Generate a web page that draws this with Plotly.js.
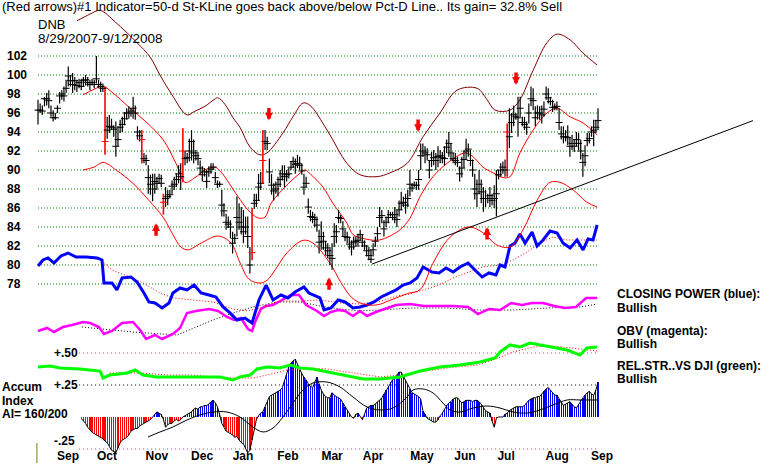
<!DOCTYPE html>
<html><head><meta charset="utf-8">
<script src="https://cdn.plot.ly/plotly-3.0.1.min.js"></script>
<style>html,body{margin:0;padding:0;background:#fff}#chart{width:784px;height:465px}</style>
</head><body><div id="chart"></div>
<script>
// ---------- DATA ----------
const monthLabels = ["Sep","Oct","Nov","Dec","Jan","Feb","Mar","Apr","May","Jun","Jul","Aug","Sep"];
const monthPos = [13.9,31.9,55.0,75.9,94.8,115.6,136.0,155.0,177.6,197.5,216.5,240.1,260.9];
const priceTicks = [78,80,82,84,86,88,90,92,94,96,98,100,102];
const aiLevels = [0.5,0.25,-0.25];
const aiLevelLabels = ["+.50","+.25","-.25"];

// daily bars, trading-day index 0..259 (8/29/2007 - 9/12/2008)
const high = [97.4,97.0,96.8,97.7,98.1,98.4,96.8,96.3,96.0,96.8,
98.2,98.4,98.8,99.5,100.9,100.0,100.2,99.8,99.5,99.6,
99.6,99.8,100.0,99.8,99.5,99.6,99.5,102.0,99.5,99.3,
99.1,98.8,95.6,95.8,95.4,94.7,95.1,94.6,95.3,95.6,
96.1,96.5,96.7,96.5,97.7,96.8,94.6,94.2,94.2,91.8,
91.6,90.5,89.5,89.6,89.6,89.3,89.6,89.5,87.5,88.2,
87.9,87.9,88.9,89.3,89.6,90.5,90.7,94.4,92.0,91.8,
93.3,94.2,93.2,92.1,91.9,91.0,90.4,90.2,90.0,90.4,
90.7,90.7,89.8,88.9,88.8,87.9,86.5,85.4,85.1,84.7,
83.5,83.3,87.2,86.5,86.1,85.8,85.1,85.1,81.9,86.0,
87.5,87.5,89.6,89.8,94.2,94.2,93.5,91.2,89.6,88.6,
88.8,89.3,90.0,90.5,90.5,90.0,90.2,90.9,91.4,91.2,
91.6,91.4,90.7,89.6,89.3,87.0,85.8,85.6,85.4,85.1,
83.7,84.6,83.5,82.5,82.3,81.9,82.3,84.4,84.2,85.8,
85.3,84.6,83.7,83.5,83.0,82.6,83.0,83.0,83.3,83.7,
83.2,82.6,82.1,81.9,81.6,82.3,83.0,84.0,86.1,85.8,
84.7,85.1,85.8,85.6,85.6,86.1,85.8,86.8,87.7,87.2,
87.5,87.9,90.0,88.6,88.8,88.8,90.0,92.8,92.8,92.5,
92.3,91.0,91.9,92.1,91.8,92.5,92.1,91.9,92.5,93.2,
94.0,92.8,91.8,91.8,91.4,90.4,91.4,92.0,93.3,92.8,
92.1,91.1,89.6,89.0,90.0,89.0,88.2,87.9,87.5,88.2,
87.5,88.4,90.0,90.0,90.7,90.9,91.1,94.9,96.5,96.0,
96.8,96.0,97.7,97.7,95.6,95.6,95.1,97.0,98.8,98.6,
96.7,96.8,96.7,96.8,97.2,98.8,98.6,97.7,97.4,97.0,
97.2,96.5,94.6,94.6,94.2,94.7,93.5,93.7,93.2,94.0,
93.9,93.2,91.8,92.6,93.9,93.9,94.6,95.3,95.3,96.5];
const low = [94.8,96.0,95.8,96.7,96.8,96.5,95.6,95.1,95.3,96.0,
97.0,97.4,97.2,98.1,98.8,98.8,98.1,98.4,98.2,98.6,
98.4,98.8,98.9,98.8,98.4,98.9,98.6,99.1,98.6,98.2,
98.2,91.6,93.3,93.9,94.2,93.5,91.4,92.5,93.9,94.0,
94.7,95.3,95.4,95.6,95.4,95.3,93.2,93.0,90.7,90.7,
90.5,87.5,87.4,86.7,87.5,87.9,88.6,88.2,85.3,86.1,
86.3,87.0,87.5,87.9,88.2,88.6,87.9,88.7,90.5,90.7,
90.9,91.0,90.7,91.0,90.5,89.5,88.8,89.3,88.1,89.3,
89.6,90.0,88.6,88.1,88.2,85.1,85.1,83.7,83.9,82.8,
81.2,82.3,83.0,83.7,83.2,82.3,83.2,81.8,79.1,80.5,
85.9,86.1,86.8,87.9,88.6,92.1,92.1,88.6,87.4,86.8,
87.5,87.2,88.2,88.9,88.2,88.8,89.1,90.0,90.2,89.6,
90.2,90.0,89.5,87.4,88.2,85.4,84.6,84.4,84.0,83.5,
81.2,81.6,81.6,81.0,80.7,80.0,79.5,81.9,82.3,84.4,
84.4,83.0,82.5,82.3,81.6,81.0,81.6,81.9,81.9,82.6,
81.9,81.6,80.9,80.5,80.2,80.9,81.9,82.6,84.0,84.4,
83.0,84.0,84.4,85.1,84.7,84.4,84.0,85.1,85.8,86.1,
85.4,86.1,87.2,87.7,88.2,87.9,87.9,90.0,91.4,90.7,
91.0,89.1,90.3,90.5,90.0,90.3,90.7,90.7,90.5,91.8,
91.4,91.0,90.7,90.5,90.3,88.8,89.2,90.2,91.1,91.4,
90.4,89.3,86.9,86.1,87.5,86.5,85.6,86.1,86.5,86.1,
86.3,86.0,85.1,89.0,89.3,89.6,89.3,89.3,92.3,93.9,
94.6,95.3,93.5,95.6,94.6,94.2,93.7,94.9,96.7,96.3,
94.6,95.3,95.3,94.9,95.6,97.4,97.0,96.8,96.1,96.3,
96.3,94.2,93.2,92.8,93.0,92.6,91.4,92.1,91.9,92.5,
92.1,91.1,89.3,90.4,92.5,92.8,93.5,92.5,93.9,94.2];
const close = [96.3,96.3,96.2,97.5,97.5,97.3,96.0,95.5,95.5,96.5,
97.8,98.0,97.8,98.6,99.9,99.4,99.0,99.4,98.9,99.2,
98.8,99.4,99.5,99.2,99.0,99.2,99.0,99.6,99.0,98.8,
98.6,93.0,94.2,94.6,94.5,94.3,92.5,93.2,94.5,94.8,
95.4,96.0,96.0,96.2,96.5,96.0,94.0,93.6,93.2,91.2,
91.0,89.2,88.5,88.0,88.8,88.6,89.1,88.6,86.6,87.0,
87.2,87.4,88.3,88.5,89.0,89.6,89.3,92.0,91.2,91.3,
92.0,93.0,91.8,91.5,91.2,90.2,89.5,89.8,88.8,89.8,
90.1,90.3,89.2,88.5,88.5,86.3,85.7,84.5,84.3,84.0,
82.3,82.8,85.0,84.5,84.0,83.5,84.0,83.0,80.0,81.3,
86.5,86.8,88.2,88.6,91.0,93.0,92.8,89.8,88.4,87.8,
88.0,88.5,89.0,89.6,89.3,89.5,89.6,90.3,90.9,90.6,
90.7,90.5,89.9,88.2,88.6,86.1,85.1,85.0,84.8,84.2,
82.4,83.0,82.5,81.8,81.5,81.0,80.7,83.0,83.5,85.0,
84.9,83.8,83.0,82.9,82.2,81.9,82.4,82.5,82.6,83.2,
82.4,82.0,81.5,81.0,80.6,81.6,82.5,83.3,85.0,85.2,
83.8,84.5,85.0,85.3,85.0,85.3,84.8,85.8,86.5,86.6,
86.3,87.0,88.5,88.1,88.4,88.4,89.0,91.5,92.0,91.8,
91.6,90.0,91.0,91.3,91.0,91.4,91.5,91.3,91.2,92.4,
92.8,91.8,91.2,91.0,90.8,89.6,90.2,91.1,92.0,92.2,
91.0,90.0,88.0,87.5,88.5,87.7,87.0,87.0,87.0,87.3,
86.8,87.0,87.5,89.5,90.0,90.3,90.0,94.0,93.5,95.0,
95.8,95.6,95.5,96.5,95.0,94.8,94.5,96.0,97.5,97.3,
95.5,96.0,96.0,95.8,96.4,98.0,97.6,97.2,96.6,96.6,
96.7,95.0,93.8,93.5,93.5,93.4,92.5,92.8,92.5,93.2,
92.8,92.0,90.8,91.5,93.1,93.3,94.0,94.2,94.5,95.2];
const redBarDays = [31,48,58,67,99,104,217];

// bands (price units)
const maroonIdx = [18,24,28.7,35.6,45.8,51.8,56.4,62,68.9,72.6,77.2,82,83.3,86.5,90.2,93.4,98.1,102.7,105.9,113.3,117.9,122.6,125.8,133.7,142.9,148.9,156.8,162.8,170.7,178.1,185.9,193.8,203.1,207.7,211.4,218.3,222.9,229,235.4,240.1,246.1,252.1,258.6];
const maroonVal = [105.7,106.4,106.8,105.6,103.4,101.9,100.0,97.9,95.8,96.2,96.7,97.5,97.6,96.9,95.5,94.5,92.4,91.6,91.8,93.9,95.6,97.05,96.8,94.2,90.7,89.5,89.3,89.7,90.7,93.5,96.0,98.4,98.6,97.4,96.3,96.3,97.4,100.5,103.4,104.3,103.7,102.3,101.05];
const upperIdx = [20.8,25.9,30.1,34.7,42.1,50,57.8,63.8,68,72.6,77.2,81.9,84.6,92.5,97.1,101.8,105,107.8,114.2,120.3,123.5,126.3,131.8,136.4,142.9,145.7,150.3,156.8,161.4,167.4,172.1,176.7,182.7,189.2,197.5,201.2,205.8,210.5,215.1,218.3,222.9,229,235.4,240.1,246.1,252.1,258.6];
const upperVal = [97.9,98.5,98.8,98.1,96.6,95.05,93.2,90.7,88.7,89.2,90.0,90.3,89.8,87.2,85.8,84.95,85.05,86.5,88.2,89.5,90.0,89.5,88.2,86.5,84.4,83.2,82.8,82.6,82.9,83.7,84.95,87.2,89.3,90.7,91.8,91.4,90.3,89.7,89.2,89.3,91.8,94.2,96.0,96.5,95.6,94.95,93.7];
const lowerIdx = [20.8,25.9,30.1,36.1,43.9,51.3,57.8,62.4,66.1,69.4,75.4,83.3,89.3,93.5,97.6,102.7,106,110,115.2,122.6,127.2,135,140,145,150.3,156.8,163,171,176.7,182.7,189.2,195.2,199.8,205.8,212.3,218.3,224.3,230.8,236.8,241.4,247.5,253.9,258.6];
const lowerVal = [90.0,90.3,90.8,90.0,88.6,86.8,85.05,83.2,81.9,81.6,82.3,83.05,82.3,80.2,78.5,78.1,78.4,79.6,81.3,82.6,82.3,80.2,78.2,76.6,75.9,75.8,76.3,77.0,77.4,80.2,82.6,83.7,84.0,83.4,82.1,81.9,83.7,86.8,88.7,88.7,87.9,86.6,86.1];

// trend line
const trendIdx = [154.5,330.7];
const trendVal = [80.1,95.2];

// red arrows: index, tip price, direction
const arrowIdx = [54.6,106.8,134.6,175.8,207.7,221.1];
const arrowVal = [84.4,95.2,78.7,94.0,84.0,98.95];
const arrowDir = ["up","down","up","down","up","down"];

// Closing Power (blue) and its MA (red dotted), price-panel units
const cpIdx = [0,2.3,4.6,7.4,10.6,13.9,17.6,22.2,27.3,29.6,30.5,34.2,36.5,38.9,43.0,45.8,49.0,51.3,54.1,57.4,60.6,62.4,65.7,68.9,72.2,75.4,79.1,82.3,85.6,88.8,92.0,95.7,99.0,102.2,105.5,108.7,112.4,115.6,118.9,123.0,125.3,130.4,132.3,135.5,138.8,142.0,145.7,148.9,152.2,155.4,158.7,162.4,165.6,168.8,172.1,175.3,178.1,182.2,185.5,188.7,192.0,195.2,198.9,202.1,205.4,208.6,211.8,213.7,216.0,218.3,220.6,222.9,225.3,228.5,230.8,233.6,236.8,240.1,242.8,246.1,249.3,252.1,254.4,256.7,258.6];
const cpVal = [79.89,80.53,80.74,80.21,80.95,81.26,80.84,80.84,80.74,80.53,78.11,78.11,77.37,78.63,78.74,78.21,77.05,76.11,76.0,75.47,76.0,77.05,77.58,77.37,77.89,77.05,76.84,76.63,75.58,74.95,74.21,74.42,73.89,76.32,77.89,76.32,76.84,76.53,77.16,77.68,77.05,76.53,75.26,75.47,76.32,76.11,75.47,75.58,75.79,76.11,76.63,77.05,77.37,77.89,78.11,78.63,79.79,79.26,79.16,79.68,79.26,79.79,80.21,79.47,78.74,79.16,78.95,80.0,79.79,82.0,82.31,83.26,82.31,83.47,82.0,82.63,83.58,83.37,82.31,81.79,82.63,81.58,82.74,82.63,84.21];
const cpMaIdx = [24.1,28.7,34.2,42.6,48.6,56.4,62.4,71.7,80.9,90.2,97.1,104.1,111.9,121.2,130.4,139.7,148.9,158.7,166.0,172.1,178.5,185.5,192.0,198.9,205.4,213.7,219.7,226.2,232.2,238.2,244.7,250.7,258.6];
const cpMaVal = [80.74,80.63,79.47,78.74,78.11,77.05,76.53,76.32,76.11,75.37,75.16,75.58,76.21,76.21,76.32,76.0,75.89,76.21,76.74,76.95,77.37,77.89,78.63,79.26,79.79,80.0,80.53,81.37,82.32,82.95,82.63,82.63,82.63];

// OBV (magenta) and its MA (black dotted)
const obvIdx = [0,4.2,7.4,11.6,15.7,20.8,24.1,28.2,30.5,34.2,38.9,43.9,47.2,50.0,54.1,57.4,62.4,65.7,68.9,73.1,79.1,83.3,87.4,90.7,93.9,97.1,99.0,100.4,103.1,105.5,108.7,113.8,117.0,120.7,124.0,129.0,132.3,135.5,138.8,142.0,145.7,148.9,152.2,156.3,160.5,165.6,172.1,178.5,185.5,192.0,198.9,203.5,208.6,213.7,218.8,223.9,228.5,233.6,238.7,243.8,248.8,253.5,258.6];
const obvVal = [73.05,73.37,72.95,73.47,73.68,74.0,73.89,73.47,72.74,73.05,73.89,74.0,73.16,72.21,72.63,72.21,72.74,73.37,74.95,75.16,75.37,75.16,74.53,74.21,74.42,73.26,73.05,74.0,75.37,75.68,75.79,76.42,76.84,76.84,75.79,75.16,74.63,75.05,75.26,75.16,74.63,75.16,74.63,75.05,75.37,75.79,75.89,75.68,75.68,75.68,75.58,74.84,75.37,75.26,76.0,75.79,76.0,76.0,75.68,75.47,75.58,76.53,76.53];
const obvMaIdx = [20.4,43.9,64.3,71.7,80.9,90.2,99.4,110.5,121.2,130.4,139.7,148.9,158.2,173.5,189.2,204.4,219.7,235.4,250.7,258.6];
const obvMaVal = [73.47,72.95,72.63,73.37,74.21,74.95,75.58,76.11,76.11,75.68,75.37,75.16,75.26,75.47,75.47,75.26,75.26,75.47,75.58,75.89];

// Relative strength vs DJI (green) and its MA (red dotted), lower-panel units
const rsIdx = [0,5.6,10.2,19.4,28.7,30.1,33.3,41.2,44.9,48.6,55.0,62.4,68.9,74.9,84.2,90.2,93.4,98.1,101.3,105.9,111.9,116.6,121.2,127.2,136.4,144.3,150.3,158.2,167.4,176.7,185.9,195.2,204.4,211.4,213.7,218.3,222.9,227.6,232.2,236.8,244.7,250.7,253.9,258.6];
const rsVal = [0.391,0.398,0.383,0.375,0.359,0.305,0.328,0.344,0.367,0.328,0.313,0.313,0.313,0.313,0.313,0.289,0.313,0.328,0.375,0.391,0.383,0.406,0.383,0.375,0.344,0.313,0.297,0.297,0.313,0.359,0.391,0.406,0.430,0.461,0.508,0.563,0.547,0.578,0.563,0.547,0.523,0.484,0.539,0.547];
const rsMaIdx = [33.3,47.2,59.7,71.7,80.9,90.2,99.4,105.9,115.2,124.4,133.7,142.9,152.2,158.2,167.4,176.7,189.2,203.1,210.5,219.7,229.0,238.2,247.5,258.6];
const rsMaVal = [0.344,0.344,0.328,0.328,0.313,0.305,0.305,0.328,0.367,0.383,0.375,0.352,0.328,0.313,0.328,0.352,0.383,0.406,0.445,0.508,0.547,0.555,0.539,0.516];

// Accumulation Index, daily from index 20
const aiStart = 20;
const aiVal = [-0.01,-0.03,-0.05,-0.08,-0.10,-0.12,-0.13,-0.14,-0.15,-0.16,
-0.17,-0.19,-0.20,-0.23,-0.26,-0.27,-0.28,-0.24,-0.20,-0.18,
-0.17,-0.16,-0.14,-0.11,-0.10,-0.09,-0.09,-0.07,-0.06,-0.05,
-0.04,-0.03,-0.02,0.00,0.02,0.04,0.03,0.02,-0.02,-0.08,
-0.06,-0.05,-0.05,-0.03,-0.02,-0.03,-0.02,0.00,0.01,0.02,
0.03,0.04,0.06,0.07,0.06,0.08,0.08,0.09,0.09,0.10,
0.12,0.13,0.11,0.08,0.02,-0.05,-0.08,-0.11,-0.12,-0.13,
-0.14,-0.16,-0.15,-0.18,-0.20,-0.21,-0.24,-0.28,-0.26,-0.18,
-0.10,-0.02,0.01,0.03,0.04,0.08,0.12,0.16,0.17,0.18,
0.19,0.20,0.21,0.23,0.28,0.33,0.39,0.42,0.44,0.45,
0.41,0.37,0.34,0.31,0.29,0.26,0.24,0.23,0.27,0.31,
0.26,0.21,0.18,0.16,0.15,0.15,0.19,0.17,0.16,0.15,
0.14,0.11,0.08,0.05,0.03,0.00,-0.01,0.02,0.03,0.00,
-0.02,0.02,0.07,0.08,0.09,0.09,0.10,0.12,0.13,0.15,
0.18,0.21,0.24,0.27,0.29,0.31,0.33,0.35,0.35,0.32,
0.29,0.26,0.22,0.19,0.18,0.17,0.16,0.14,0.05,0.02,
-0.01,-0.02,-0.03,-0.04,-0.04,-0.02,0.01,0.03,0.06,0.09,
0.11,0.12,0.14,0.15,0.15,0.13,0.11,0.12,0.13,0.13,
0.13,0.12,0.13,0.13,0.12,0.10,0.07,0.05,0.04,0.03,
-0.03,-0.08,-0.01,0.00,0.00,0.00,0.02,0.03,0.05,0.06,
0.07,0.08,0.08,0.08,0.08,0.09,0.11,0.13,0.14,0.15,
0.15,0.16,0.16,0.18,0.20,0.22,0.23,0.21,0.19,0.17,
0.17,0.14,0.11,0.09,0.10,0.11,0.12,0.10,0.08,0.07,
0.10,0.13,0.15,0.17,0.19,0.20,0.18,0.17,0.21,0.27];
const aiMaIdx = [50.9,56.4,62.4,68.9,74.9,80.9,87.4,93.4,99.4,104.1,108.7,113.3,117.9,122.6,127.2,133.7,139.7,145.7,152.2,158.2,164.2,170.7,173.5,178.1,182.7,187.3,190.6,195.2,201.2,207.7,213.7,219.7,226.2,232.2,238.2,244.7,250.7,258.6];
const aiMaVal = [-0.156,-0.117,-0.078,-0.023,0.016,0.039,0.039,0.0,-0.078,-0.117,-0.086,0.0,0.109,0.211,0.266,0.273,0.234,0.156,0.078,0.055,0.070,0.156,0.211,0.219,0.188,0.109,0.055,0.039,0.070,0.086,0.070,0.039,0.031,0.055,0.094,0.133,0.133,0.133];

// ---------- DRAW ----------
const F = "Liberation Sans, Arial, sans-serif";
const N = high.length;
const traces = [];
const dotted = '1px,2px';

// price grid
const gx=[], gy=[];
priceTicks.forEach(v=>{gx.push(0,N-1,null); gy.push(v,v,null);});
traces.push({type:'scatter',mode:'lines',x:gx,y:gy,line:{color:'#008000',width:1,dash:dotted},hoverinfo:'skip'});

// AI level lines
const levelColors = ['#b040b0','#000000','#b040b0'];
aiLevels.forEach((v,k)=>{
  traces.push({type:'scatter',mode:'lines',x:[aiStart-1,N-1],y:[v,v],yaxis:'y2',line:{color:levelColors[k],width:1,dash:'1px,3px'},hoverinfo:'skip'});
});

// AI histogram
const aiX = aiVal.map((v,k)=>aiStart+k);
traces.push({type:'bar',x:aiX,y:aiVal,yaxis:'y2',width:0.6,marker:{color:aiVal.map(v=>v<0?'#ff0000':'#0000ff'),line:{width:0}},hoverinfo:'skip'});
traces.push({type:'scatter',mode:'lines',x:aiX,y:aiVal,yaxis:'y2',line:{color:'#000',width:1},hoverinfo:'skip'});
traces.push({type:'scatter',mode:'lines',x:aiMaIdx,y:aiMaVal,yaxis:'y2',line:{color:'#000',width:1,shape:'spline'},hoverinfo:'skip'});

// RS green
traces.push({type:'scatter',mode:'lines',x:rsMaIdx,y:rsMaVal,yaxis:'y2',line:{color:'#ff0000',width:1,dash:dotted},hoverinfo:'skip'});
traces.push({type:'scatter',mode:'lines',x:rsIdx,y:rsVal,yaxis:'y2',line:{color:'#00ff00',width:3},hoverinfo:'skip'});

// OBV magenta
traces.push({type:'scatter',mode:'lines',x:obvMaIdx,y:obvMaVal,line:{color:'#000',width:1,dash:dotted},hoverinfo:'skip'});
traces.push({type:'scatter',mode:'lines',x:obvIdx,y:obvVal,line:{color:'#ff00ff',width:2.5},hoverinfo:'skip'});

// CP blue
traces.push({type:'scatter',mode:'lines',x:cpMaIdx,y:cpMaVal,line:{color:'#ff0000',width:1,dash:dotted},hoverinfo:'skip'});
traces.push({type:'scatter',mode:'lines',x:cpIdx,y:cpVal,line:{color:'#0000ff',width:3},hoverinfo:'skip'});

// bands
traces.push({type:'scatter',mode:'lines',x:maroonIdx,y:maroonVal,line:{color:'#800000',width:1,shape:'spline'},hoverinfo:'skip'});
traces.push({type:'scatter',mode:'lines',x:upperIdx,y:upperVal,line:{color:'#ff0000',width:1,shape:'spline'},hoverinfo:'skip'});
traces.push({type:'scatter',mode:'lines',x:lowerIdx,y:lowerVal,line:{color:'#ff0000',width:1,shape:'spline'},hoverinfo:'skip'});

// trend line
traces.push({type:'scatter',mode:'lines',x:trendIdx,y:trendVal,line:{color:'#000',width:1},hoverinfo:'skip'});

// price bars
const bx=[],by=[],rx=[],ry=[];
for(let i=0;i<N;i++){
  const isRed = redBarDays.includes(i);
  (isRed?rx:bx).push(i,i,null);
  (isRed?ry:by).push(low[i],high[i],null);
}
traces.push({type:'scatter',mode:'lines',x:bx,y:by,line:{color:'#000',width:1.2},hoverinfo:'skip'});
traces.push({type:'scatter',mode:'lines',x:rx,y:ry,line:{color:'#ff0000',width:1.6},hoverinfo:'skip'});
const dayIdx = close.map((c,i)=>i);
traces.push({type:'scatter',mode:'markers',x:dayIdx,y:close,
  marker:{symbol:'line-ew',size:5,line:{width:1,color:dayIdx.map(i=>redBarDays.includes(i)?'#ff0000':'#000')}},hoverinfo:'skip'});

// ---------- ANNOTATIONS ----------
const W=784,H=465;
function txt(px,py,t,opts){
  return Object.assign({xref:'paper',yref:'paper',x:px/W,y:1-py/H,xanchor:'left',yanchor:'middle',showarrow:false,text:t,
    font:{family:F,size:12,color:'#000'}},opts||{});
}
const ann = [
  txt(0,7,"(Red arrows)#1 Indicator=50-d St-KLine goes back above/below Pct-D Line.. Its gain= 32.8% Sell",{font:{family:F,size:13,color:'#000'}}),
  txt(36,25,"DNB",{font:{family:F,size:13,color:'#000'}}),
  txt(36,38,"8/29/2007-9/12/2008",{font:{family:F,size:13.5,color:'#000'}}),
  txt(615,294,"<b>CLOSING POWER (blue):</b>"),
  txt(615,308,"<b>Bullish</b>"),
  txt(615,331,"<b>OBV (magenta):</b>"),
  txt(615,344,"<b>Bullish</b>"),
  txt(615,366,"<b>REL.STR..VS DJI (green):</b>"),
  txt(615,379,"<b>Bullish</b>"),
  txt(0,387,"<b>Accum</b>"),
  txt(0,401,"<b>Index</b>"),
  txt(0,414,"<b>AI= 160/200</b>")
];
aiLevels.forEach((v,k)=>{
  ann.push({xref:'paper',yref:'y2',x:52/W,y:v,xanchor:'left',yanchor:'middle',showarrow:false,
    text:'<b>'+aiLevelLabels[k]+'</b>',font:{family:F,size:12,color:'#000'},yshift:(v<0?8:0)});
});
arrowIdx.forEach((x,k)=>{
  ann.push({xref:'x',yref:'y',x:x,y:arrowVal[k],ax:0,ay:(arrowDir[k]==='up'?14:-14),text:'',showarrow:true,
    arrowhead:2,arrowsize:0.45,arrowwidth:3.5,arrowcolor:'#ff0000',standoff:0,startstandoff:0});
});

const layout = {
  width:W,height:H,margin:{l:0,r:0,t:0,b:0,pad:0},
  paper_bgcolor:'#ffffff',plot_bgcolor:'#ffffff',showlegend:false,hovermode:false,
  xaxis:{range:[-17.575,345.02],showgrid:false,zeroline:false,showline:false,ticks:'',
    tickvals:monthPos,ticktext:monthLabels,ticklabelposition:'inside',
    tickfont:{family:F,size:12,color:'#000',weight:'bold'}},
  yaxis:{range:[58.947,107.895],showgrid:false,zeroline:false,showline:false,ticks:'',
    tickvals:priceTicks,ticktext:priceTicks.map(String),ticklabelposition:'inside',ticklabelstandoff:4,
    tickfont:{family:F,size:12,color:'#000',weight:'bold'}},
  yaxis2:{range:[-0.375,3.258],overlaying:'y',visible:false},
  shapes:[{type:'line',xref:'x',yref:'paper',x0:-0.5,x1:-0.5,y0:1-463/H,y1:1-443/H,line:{color:'#808000',width:1}}],
  annotations:ann,
  bargap:0
};
Plotly.newPlot('chart',traces,layout,{staticPlot:true,displayModeBar:false});
</script>
</body></html>
